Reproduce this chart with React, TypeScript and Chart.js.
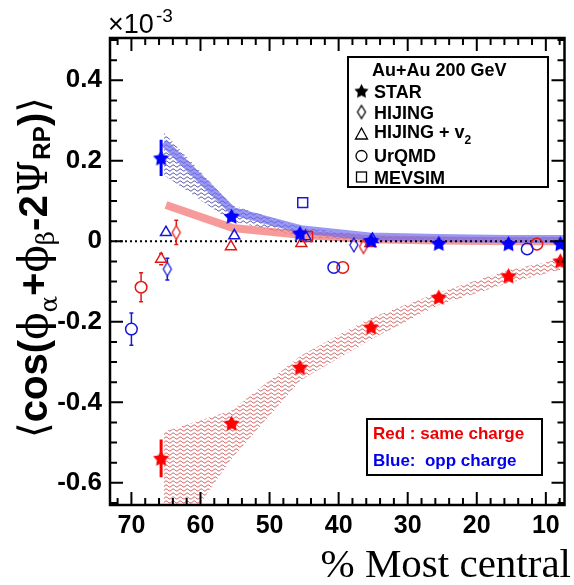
import React, { useEffect, useRef } from 'react';
import { Chart, registerables } from 'chart.js';

Chart.register(...registerables);

const W = 574;
const H = 585;
const X_MIN = 7.3;
const X_MAX = 73.1;
const Y_MIN = -0.655;
const Y_MAX = 0.505;
const xTickValues = [70, 60, 50, 40, 30, 20, 10];
const yTickValues = [0.4, 0.2, 0, -0.2, -0.4, -0.6];
const X_MINOR_STEP = 2;
const Y_MINOR_STEP = 0.05;

// STAR data (stars)
const starX = [65.7, 55.5, 45.6, 35.3, 25.5, 15.4, 7.9];
const oppStarY = [0.207, 0.062, 0.02, 0.002, -0.005, -0.006, -0.006];
const oppStarErr = [0.045, 0.012, 0.008, 0.006, 0.004, 0.004, 0.004];
const sameStarY = [-0.539, -0.452, -0.313, -0.213, -0.139, -0.086, -0.049];
const sameStarErr = [0.047, 0.012, 0.008, 0.006, 0.005, 0.004, 0.004];

// systematic (hatched) bands
const bandX = [65.3, 55.5, 45.5, 35.5, 25.5, 15.5, 7.3];
const oppBandHi = [0.27, 0.09, 0.035, 0.014, 0.01, 0.01, 0.01];
const oppBandLo = [0.165, 0.05, 0.012, 0.0, 0.0, 0.0, 0.0];
const sameBandHi = [-0.473, -0.42, -0.284, -0.191, -0.127, -0.072, -0.042];
const sameBandLo = [-0.78, -0.54, -0.345, -0.245, -0.158, -0.104, -0.068];

// thick solid curves
const oppLineX = [65.3, 55.3, 45.5, 35.5, 25.5, 15.5, 7.3];
const oppLineY = [0.245, 0.075, 0.03, 0.012, 0.008, 0.006, 0.006];
const sameLineX = [65.0, 55.3, 45.5, 35.5, 25.5, 15.5, 7.3];
const sameLineY = [0.09, 0.033, 0.016, 0.005, 0.002, 0.0, 0.0];

// models
const hijingOppX = [64.8, 37.8];
const hijingOppY = [-0.069, -0.009];
const hijingOppErr = [0.027, 0];
const hijingSameX = [63.5, 36.4];
const hijingSameY = [0.022, -0.013];
const hijingSameErr = [0.03, 0];

const hijV2OppX = [65.0, 55.1, 44.8, 35.1];
const hijV2OppY = [0.022, 0.014, 0.012, 0.005];
const hijV2SameX = [65.7, 55.6, 45.4, 35.4];
const hijV2SameY = [-0.044, -0.013, -0.005, -0.005];
const hijV2SameErr = [0.014, 0, 0, 0];

const urqmdOppX = [70.0, 40.7, 12.7];
const urqmdOppY = [-0.218, -0.065, -0.019];
const urqmdOppErr = [0.04, 0, 0];
const urqmdSameX = [68.6, 39.4, 11.3];
const urqmdSameY = [-0.114, -0.065, -0.007];
const urqmdSameErr = [0.036, 0, 0];

const mevsimOppX = [45.2];
const mevsimOppY = [0.096];
const mevsimSameX = [44.5];
const mevsimSameY = [0.012];

const legendTitle = 'Au+Au 200 GeV';
const legendItems = ['STAR', 'HIJING', 'HIJING + v', 'UrQMD', 'MEVSIM'];
const chargeLabels = ['Red : same charge', 'Blue:  opp charge'];
const xTitle = '% Most central';

const RED = '#ff0000';
const BLUE = '#0000ff';
const MRED = '#e01818';
const MBLUE = '#1818dd';

const pts = (xs: number[], ys: number[]) => xs.map((x, i) => ({ x, y: ys[i] }));

function makeStar(color: string, R: number) {
  const s = Math.ceil(R * 2 + 2);
  const c = document.createElement('canvas');
  c.width = s;
  c.height = s;
  const g = c.getContext('2d')!;
  g.translate(s / 2, s / 2 + R * 0.08);
  g.beginPath();
  for (let k = 0; k < 10; k++) {
    const r = k % 2 ? R * 0.52 : R;
    const a = -Math.PI / 2 + (k * Math.PI) / 5;
    const px = r * Math.cos(a);
    const py = r * Math.sin(a);
    if (k === 0) g.moveTo(px, py);
    else g.lineTo(px, py);
  }
  g.closePath();
  g.fillStyle = color;
  g.fill();
  return c;
}

function makeDiamond(color: string, w: number, h: number, lw: number) {
  const c = document.createElement('canvas');
  c.width = w + 4;
  c.height = h + 4;
  const g = c.getContext('2d')!;
  const cx = c.width / 2;
  const cy = c.height / 2;
  g.beginPath();
  g.moveTo(cx, cy - h / 2);
  g.lineTo(cx + w / 2, cy);
  g.lineTo(cx, cy + h / 2);
  g.lineTo(cx - w / 2, cy);
  g.closePath();
  g.strokeStyle = color;
  g.lineWidth = lw;
  g.stroke();
  return c;
}

function makeWave(ctx: CanvasRenderingContext2D, color: string, period: number, spacing: number) {
  const c = document.createElement('canvas');
  c.width = period;
  c.height = spacing;
  const g = c.getContext('2d')!;
  g.strokeStyle = color;
  g.lineWidth = 0.9;
  g.beginPath();
  for (let i = -1; i <= period + 1; i += 0.5) {
    const y = spacing / 2 + 1.0 * Math.sin((i / period) * Math.PI * 2);
    if (i === -1) g.moveTo(i, y);
    else g.lineTo(i, y);
  }
  g.stroke();
  return ctx.createPattern(c, 'repeat')!;
}

const errorBarPlugin = {
  id: 'errorBars',
  afterDatasetsDraw(chart: any) {
    const { ctx, scales } = chart;
    const xs = scales.x;
    const ys = scales.y;
    ctx.save();
    chart.data.datasets.forEach((ds: any) => {
      if (!ds.errors) return;
      ctx.strokeStyle = ds.errColor;
      ctx.lineWidth = ds.errWidth;
      ds.data.forEach((p: any, j: number) => {
        const e = ds.errors[j];
        if (!e) return;
        const px = xs.getPixelForValue(p.x);
        const py = ys.getPixelForValue(p.y);
        const top = ys.getPixelForValue(p.y + e);
        const bot = ys.getPixelForValue(p.y - e);
        const gap = ds.errGap || 0;
        ctx.beginPath();
        if (top < py - gap) {
          ctx.moveTo(px, top);
          ctx.lineTo(px, py - gap);
        }
        if (bot > py + gap) {
          ctx.moveTo(px, py + gap);
          ctx.lineTo(px, bot);
        }
        if (ds.errCap) {
          ctx.moveTo(px - ds.errCap, top);
          ctx.lineTo(px + ds.errCap, top);
          ctx.moveTo(px - ds.errCap, bot);
          ctx.lineTo(px + ds.errCap, bot);
        }
        ctx.stroke();
      });
    });
    ctx.restore();
  },
};

const framePlugin = {
  id: 'frame',
  afterDatasetsDraw(chart: any) {
    const { ctx, chartArea: a, scales } = chart;
    const xs = scales.x;
    const ys = scales.y;
    ctx.save();
    ctx.strokeStyle = '#000';
    ctx.lineWidth = 2;
    ctx.beginPath();
    for (let v = Math.ceil(X_MIN / X_MINOR_STEP) * X_MINOR_STEP; v <= X_MAX; v += X_MINOR_STEP) {
      const px = xs.getPixelForValue(v);
      const len = Math.abs(v % 10) < 1e-6 ? 13 : 7;
      ctx.moveTo(px, a.bottom);
      ctx.lineTo(px, a.bottom - len);
      ctx.moveTo(px, a.top);
      ctx.lineTo(px, a.top + len);
    }
    const i0 = Math.ceil(Y_MIN / Y_MINOR_STEP - 1e-6);
    const i1 = Math.floor(Y_MAX / Y_MINOR_STEP + 1e-6);
    for (let i = i0; i <= i1; i++) {
      const v = i * Y_MINOR_STEP;
      const py = ys.getPixelForValue(v);
      const len = i % 4 === 0 ? 13 : 7;
      ctx.moveTo(a.left, py);
      ctx.lineTo(a.left + len, py);
      ctx.moveTo(a.right, py);
      ctx.lineTo(a.right - len, py);
    }
    ctx.stroke();
    ctx.lineWidth = 2.5;
    ctx.strokeRect(a.left, a.top, a.right - a.left, a.bottom - a.top);
    ctx.restore();
  },
};

const yTitleSegs = [
  { t: '\u27E8', font: '36px "DejaVu Sans"', dy: 0 },
  { t: 'cos(', font: 'bold 36px "Liberation Sans"', dy: 0 },
  { t: '\u03D5', font: '36px "DejaVu Serif"', dy: 0 },
  { t: '\u03B1', font: '22px "DejaVu Serif"', dy: 9 },
  { t: '+', font: 'bold 36px "Liberation Sans"', dy: 0 },
  { t: '\u03D5', font: '36px "DejaVu Serif"', dy: 0 },
  { t: '\u03B2', font: '22px "DejaVu Serif"', dy: 6 },
  { t: '-2', font: 'bold 36px "Liberation Sans"', dy: 0 },
  { t: '\u03A8', font: '36px "DejaVu Serif"', dy: 0 },
  { t: 'RP', font: 'bold 22px "Liberation Sans"', dy: 3 },
  { t: ')', font: 'bold 36px "Liberation Sans"', dy: 0 },
  { t: '\u27E9', font: '36px "DejaVu Sans"', dy: 0 },
];

function makeTextPlugin(markers: any) {
  return {
    id: 'texts',
    afterDraw(chart: any) {
      const { ctx } = chart;
      ctx.save();
      ctx.fillStyle = '#000';
      // exponent
      ctx.textBaseline = 'alphabetic';
      ctx.textAlign = 'left';
      ctx.font = '27px "Liberation Sans"';
      ctx.fillText('\u00D710', 108, 33);
      ctx.font = '19px "Liberation Sans"';
      ctx.fillText('-3', 156, 22);

      // x title
      ctx.font = '41px "Liberation Serif"';
      ctx.textAlign = 'right';
      ctx.fillText(xTitle, 571, 577);

      // y title
      ctx.textAlign = 'left';
      let total = 0;
      yTitleSegs.forEach((s) => {
        ctx.font = s.font;
        total += ctx.measureText(s.t).width;
      });
      const k = 341 / total;
      ctx.save();
      ctx.translate(47, 438);
      ctx.rotate(-Math.PI / 2);
      ctx.scale(k, k);
      let tx = 0;
      yTitleSegs.forEach((s) => {
        ctx.font = s.font;
        ctx.fillText(s.t, tx, s.dy);
        tx += ctx.measureText(s.t).width;
      });
      ctx.restore();

      // legend box
      ctx.lineWidth = 2;
      ctx.strokeStyle = '#000';
      ctx.strokeRect(348, 57, 200, 130);
      ctx.font = 'bold 18px "Liberation Sans"';
      ctx.fillText(legendTitle, 372, 76);
      const rows = [97.5, 119, 138, 162, 184];
      const mys = [91, 112, 134, 156, 177];
      legendItems.forEach((lab, i) => {
        ctx.font = 'bold 18px "Liberation Sans"';
        ctx.fillText(lab, 374, rows[i]);
        if (i === 2) {
          const w = ctx.measureText(lab).width;
          ctx.font = 'bold 12px "Liberation Sans"';
          ctx.fillText('2', 374 + w, rows[i] + 6);
        }
      });
      const mx = 361.5;
      ctx.drawImage(markers.star, mx - markers.star.width / 2, mys[0] - markers.star.height / 2);
      ctx.drawImage(markers.diamond, mx - markers.diamond.width / 2, mys[1] - markers.diamond.height / 2);
      ctx.lineWidth = 1.3;
      ctx.beginPath();
      ctx.moveTo(mx, mys[2] - 6);
      ctx.lineTo(mx + 6, mys[2] + 5);
      ctx.lineTo(mx - 6, mys[2] + 5);
      ctx.closePath();
      ctx.stroke();
      ctx.beginPath();
      ctx.arc(mx, mys[3], 5.5, 0, Math.PI * 2);
      ctx.stroke();
      ctx.strokeRect(mx - 5, mys[4] - 5, 10, 10);

      // charge box
      ctx.lineWidth = 2;
      ctx.strokeRect(367, 419, 175, 56);
      ctx.font = 'bold 17px "Liberation Sans"';
      ctx.fillStyle = '#ee0000';
      ctx.fillText(chargeLabels[0], 373, 438.5);
      ctx.fillStyle = '#0000ee';
      ctx.fillText(chargeLabels[1], 373, 465.5);
      ctx.restore();
    },
  };
}

export default function App() {
  const ref = useRef<HTMLCanvasElement | null>(null);

  useEffect(() => {
    document.body.style.margin = '0';
    const canvas = ref.current!;
    const ctx = canvas.getContext('2d')!;

    const redHatch = makeWave(ctx, 'rgba(185,20,20,0.8)', 7, 4);
    const blueHatch = makeWave(ctx, 'rgba(20,20,130,0.9)', 7, 4);
    const redStar = makeStar(RED, 8.5);
    const blueStar = makeStar(BLUE, 8.5);
    const blackStar = makeStar('#000', 7.5);
    const redDiamond = makeDiamond(MRED, 8, 14, 1.3);
    const blueDiamond = makeDiamond(MBLUE, 8, 14, 1.3);
    const blackDiamond = makeDiamond('#000', 8, 13, 1.3);

    const band = (data: any, color: any, fill: any, order: number) => ({
      data,
      showLine: true,
      borderWidth: 0,
      borderColor: 'rgba(0,0,0,0)',
      backgroundColor: color,
      pointRadius: 0,
      fill,
      order,
      tension: 0,
    });

    const marker = (data: any, style: any, color: string, radius: number, order: number, extra: any = {}) => ({
      data,
      showLine: false,
      pointStyle: style,
      pointRadius: radius,
      pointBorderColor: color,
      pointBackgroundColor: 'rgba(0,0,0,0)',
      pointBorderWidth: 1.5,
      order,
      ...extra,
    });

    const chart = new Chart(canvas, {
      type: 'line',
      data: {
        datasets: [
          band(pts(bandX, sameBandHi), redHatch, '+1', 100),
          band(pts(bandX, sameBandLo), 'rgba(0,0,0,0)', false, 99),
          band(pts(bandX, oppBandHi), blueHatch, '+1', 98),
          band(pts(bandX, oppBandLo), 'rgba(0,0,0,0)', false, 97),
          {
            data: pts(sameLineX, sameLineY),
            showLine: true,
            borderColor: 'rgba(244,120,120,0.75)',
            borderWidth: 8,
            pointRadius: 0,
            fill: false,
            order: 96,
          },
          {
            data: pts(oppLineX, oppLineY),
            showLine: true,
            borderColor: 'rgba(110,110,238,0.7)',
            borderWidth: 8,
            pointRadius: 0,
            fill: false,
            order: 95,
          },
          {
            data: [
              { x: X_MAX, y: 0 },
              { x: X_MIN, y: 0 },
            ],
            showLine: true,
            borderColor: '#000',
            borderWidth: 2,
            borderDash: [2, 3],
            pointRadius: 0,
            fill: false,
            order: 90,
          },
          marker(pts(hijingOppX, hijingOppY), blueDiamond, MBLUE, 6, 50, { errors: hijingOppErr, errColor: MBLUE, errWidth: 1.5, errGap: 7, errCap: 2 }),
          marker(pts(hijingSameX, hijingSameY), redDiamond, MRED, 6, 50, { errors: hijingSameErr, errColor: MRED, errWidth: 1.5, errGap: 7, errCap: 2 }),
          marker(pts(hijV2OppX, hijV2OppY), 'triangle', MBLUE, 6.3, 49),
          marker(pts(hijV2SameX, hijV2SameY), 'triangle', MRED, 6.3, 49, { errors: hijV2SameErr, errColor: MRED, errWidth: 1.5, errGap: 5, errCap: 2 }),
          marker(pts(urqmdOppX, urqmdOppY), 'circle', MBLUE, 5.8, 48, { errors: urqmdOppErr, errColor: MBLUE, errWidth: 1.5, errGap: 6, errCap: 2 }),
          marker(pts(urqmdSameX, urqmdSameY), 'circle', MRED, 5.8, 48, { errors: urqmdSameErr, errColor: MRED, errWidth: 1.5, errGap: 6, errCap: 2 }),
          marker(pts(mevsimOppX, mevsimOppY), 'rect', MBLUE, 7, 47),
          marker(pts(mevsimSameX, mevsimSameY), 'rect', MRED, 7, 47),
          marker(pts(starX, sameStarY), redStar, RED, 8, 10, { errors: sameStarErr, errColor: RED, errWidth: 3, errGap: 0 }),
          marker(pts(starX, oppStarY), blueStar, BLUE, 8, 9, { errors: oppStarErr, errColor: BLUE, errWidth: 3, errGap: 0 }),
        ] as any,
      },
      options: {
        responsive: false,
        animation: false,
        devicePixelRatio: 1,
        layout: { padding: { top: 38, right: 2, left: 0, bottom: 0 } },
        plugins: {
          legend: { display: false },
          tooltip: { enabled: false },
        },
        events: [],
        scales: {
          x: {
            type: 'linear',
            reverse: true,
            min: X_MIN,
            max: X_MAX,
            afterBuildTicks: (s: any) => {
              s.ticks = xTickValues.map((v) => ({ value: v }));
            },
            afterFit: (s: any) => {
              s.height = 80;
            },
            grid: { display: false, drawTicks: false },
            border: { display: false },
            ticks: {
              autoSkip: false,
              maxRotation: 0,
              padding: 6,
              color: '#000',
              font: { family: '"Liberation Sans"', size: 25, weight: 'bold' },
              callback: (v: any) => String(v),
            },
          },
          y: {
            type: 'linear',
            min: Y_MIN,
            max: Y_MAX,
            afterBuildTicks: (s: any) => {
              s.ticks = yTickValues.map((v) => ({ value: v }));
            },
            afterFit: (s: any) => {
              s.width = 110;
            },
            grid: { display: false, drawTicks: false },
            border: { display: false },
            ticks: {
              autoSkip: false,
              padding: 8,
              color: '#000',
              font: { family: '"Liberation Sans"', size: 26, weight: 'bold' },
              callback: (v: any) => (Math.abs(v) < 1e-9 ? '0' : Number(v).toFixed(1)),
            },
          },
        },
      } as any,
      plugins: [framePlugin, errorBarPlugin, makeTextPlugin({ star: blackStar, diamond: blackDiamond })],
    });

    return () => chart.destroy();
  }, []);

  return (
    <div style={{ width: W, height: H }}>
      <canvas ref={ref} width={W} height={H} style={{ display: 'block', width: W, height: H }} />
    </div>
  );
}
